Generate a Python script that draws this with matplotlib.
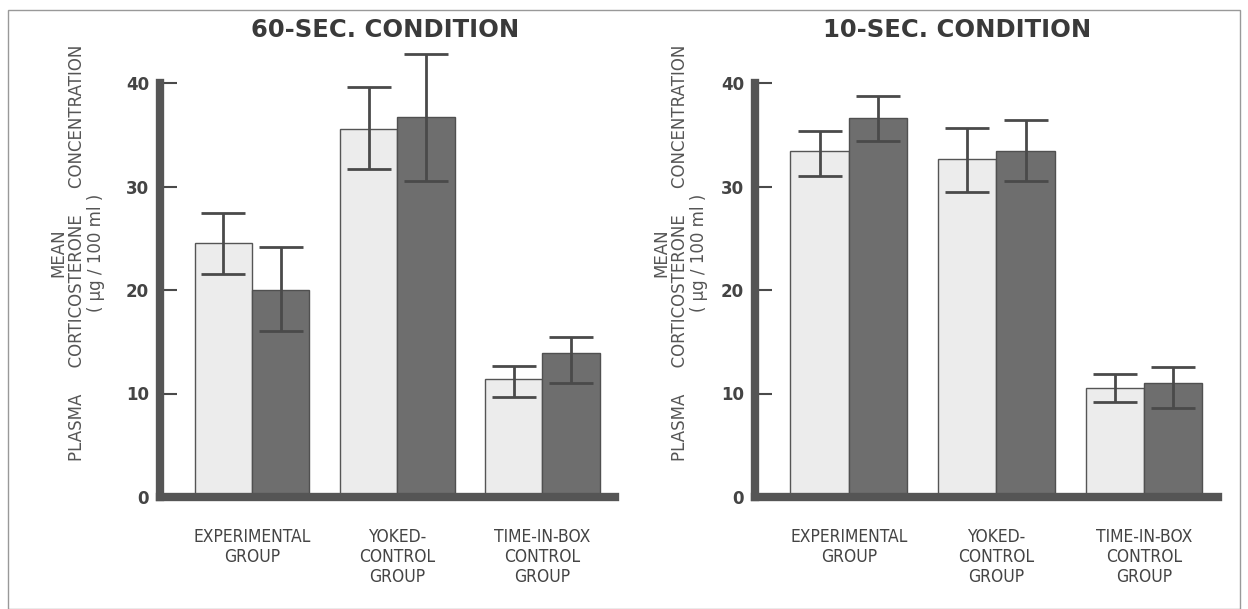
import numpy as np
import matplotlib.pyplot as plt
from matplotlib.patches import Rectangle

# Groups
groups = ['EXPERIMENTAL\nGROUP', 'YOKED-\nCONTROL\nGROUP', 'TIME-IN-BOX\nCONTROL\nGROUP']

# 60-sec condition (light bar, dark bar) with error bar ends
c60_light = [24.5, 35.6, 11.4]
c60_light_lo = [21.5, 31.7, 9.7]
c60_light_hi = [27.4, 39.6, 12.7]
c60_dark = [20.0, 36.7, 13.9]
c60_dark_lo = [16.0, 30.5, 11.0]
c60_dark_hi = [24.2, 42.8, 15.5]

# 10-sec condition
c10_light = [33.4, 32.7, 10.5]
c10_light_lo = [31.0, 29.5, 9.2]
c10_light_hi = [35.4, 35.7, 11.9]
c10_dark = [36.6, 33.4, 11.0]
c10_dark_lo = [34.4, 30.5, 8.6]
c10_dark_hi = [38.7, 36.4, 12.6]

ink = '#4a4a4a'
light_fill = '#ececec'
dark_fill = '#6e6e6e'

fig = plt.figure(figsize=(12.48, 6.09), dpi=100)
W, H = 1248, 609

# thin frame around the whole figure
fig.patches.append(Rectangle((8 / W, 0.0), (1240 - 8) / W, (609 - 10) / H,
                             transform=fig.transFigure, fill=False,
                             edgecolor='#999999', linewidth=1))

ylab = 'MEAN\nPLASMA     CORTICOSTERONE     CONCENTRATION\n( \u03bcg / 100 ml )'


def panel(left_px, width_px, title, title_x, light, llo, lhi, dark, dlo, dhi, ylab_x):
    bottom_px = 497
    unit = 10.35
    ymax = 46
    ax = fig.add_axes([left_px / W, (H - bottom_px) / H, width_px / W, ymax * unit / H])
    x = np.arange(len(groups))
    w = 0.395
    xl = x - w / 2
    xd = x + w / 2
    ax.bar(xl, light, w, color=light_fill, edgecolor='#555555', linewidth=1, zorder=2)
    ax.bar(xd, dark, w, color=dark_fill, edgecolor='#505050', linewidth=1, zorder=2)
    lm = (np.array(llo) + np.array(lhi)) / 2
    dm = (np.array(dlo) + np.array(dhi)) / 2
    ax.errorbar(xl, lm, yerr=(np.array(lhi) - np.array(llo)) / 2, fmt='none',
                ecolor=ink, elinewidth=2, capsize=16, capthick=2, zorder=3)
    ax.errorbar(xd, dm, yerr=(np.array(dhi) - np.array(dlo)) / 2, fmt='none',
                ecolor=ink, elinewidth=2, capsize=16, capthick=2, zorder=3)

    ax.set_xlim(-0.635, 2.5)
    ax.set_ylim(0, ymax)
    for s in ['top', 'right']:
        ax.spines[s].set_visible(False)
    ax.spines['left'].set_bounds(0, 40)
    ax.spines['left'].set_linewidth(6)
    ax.spines['bottom'].set_linewidth(6)
    ax.spines['left'].set_color('#555555')
    ax.spines['bottom'].set_color('#555555')
    ax.set_yticks([0, 10, 20, 30, 40])
    ax.tick_params(axis='y', direction='in', length=12, width=1.5, color=ink,
                   labelsize=12, labelcolor='#444444', pad=8)
    for t in ax.get_yticklabels():
        t.set_fontweight('bold')
    ax.set_xticks(x)
    ax.set_xticklabels(groups, family='DejaVu Sans', fontstretch='condensed',
                       fontsize=12.5, color='#444444', linespacing=1.15)
    ax.tick_params(axis='x', length=0, pad=22)
    ax.patch.set_alpha(0)

    fig.text(title_x / W, (H - 30) / H, title, ha='center', va='center',
             fontsize=17.5, fontweight='bold', color='#3a3a3a')
    fig.text(ylab_x / W, (H - 253) / H, ylab, rotation=90, ha='center', va='center',
             fontsize=12, color='#555555', linespacing=1.05, multialignment='center')
    return ax


panel(160, 455, '60-SEC. CONDITION', 385, c60_light, c60_light_lo, c60_light_hi,
      c60_dark, c60_dark_lo, c60_dark_hi, 77)
panel(755, 463, '10-SEC. CONDITION', 957, c10_light, c10_light_lo, c10_light_hi,
      c10_dark, c10_dark_lo, c10_dark_hi, 680)

fig.savefig('out.png', dpi=100)
